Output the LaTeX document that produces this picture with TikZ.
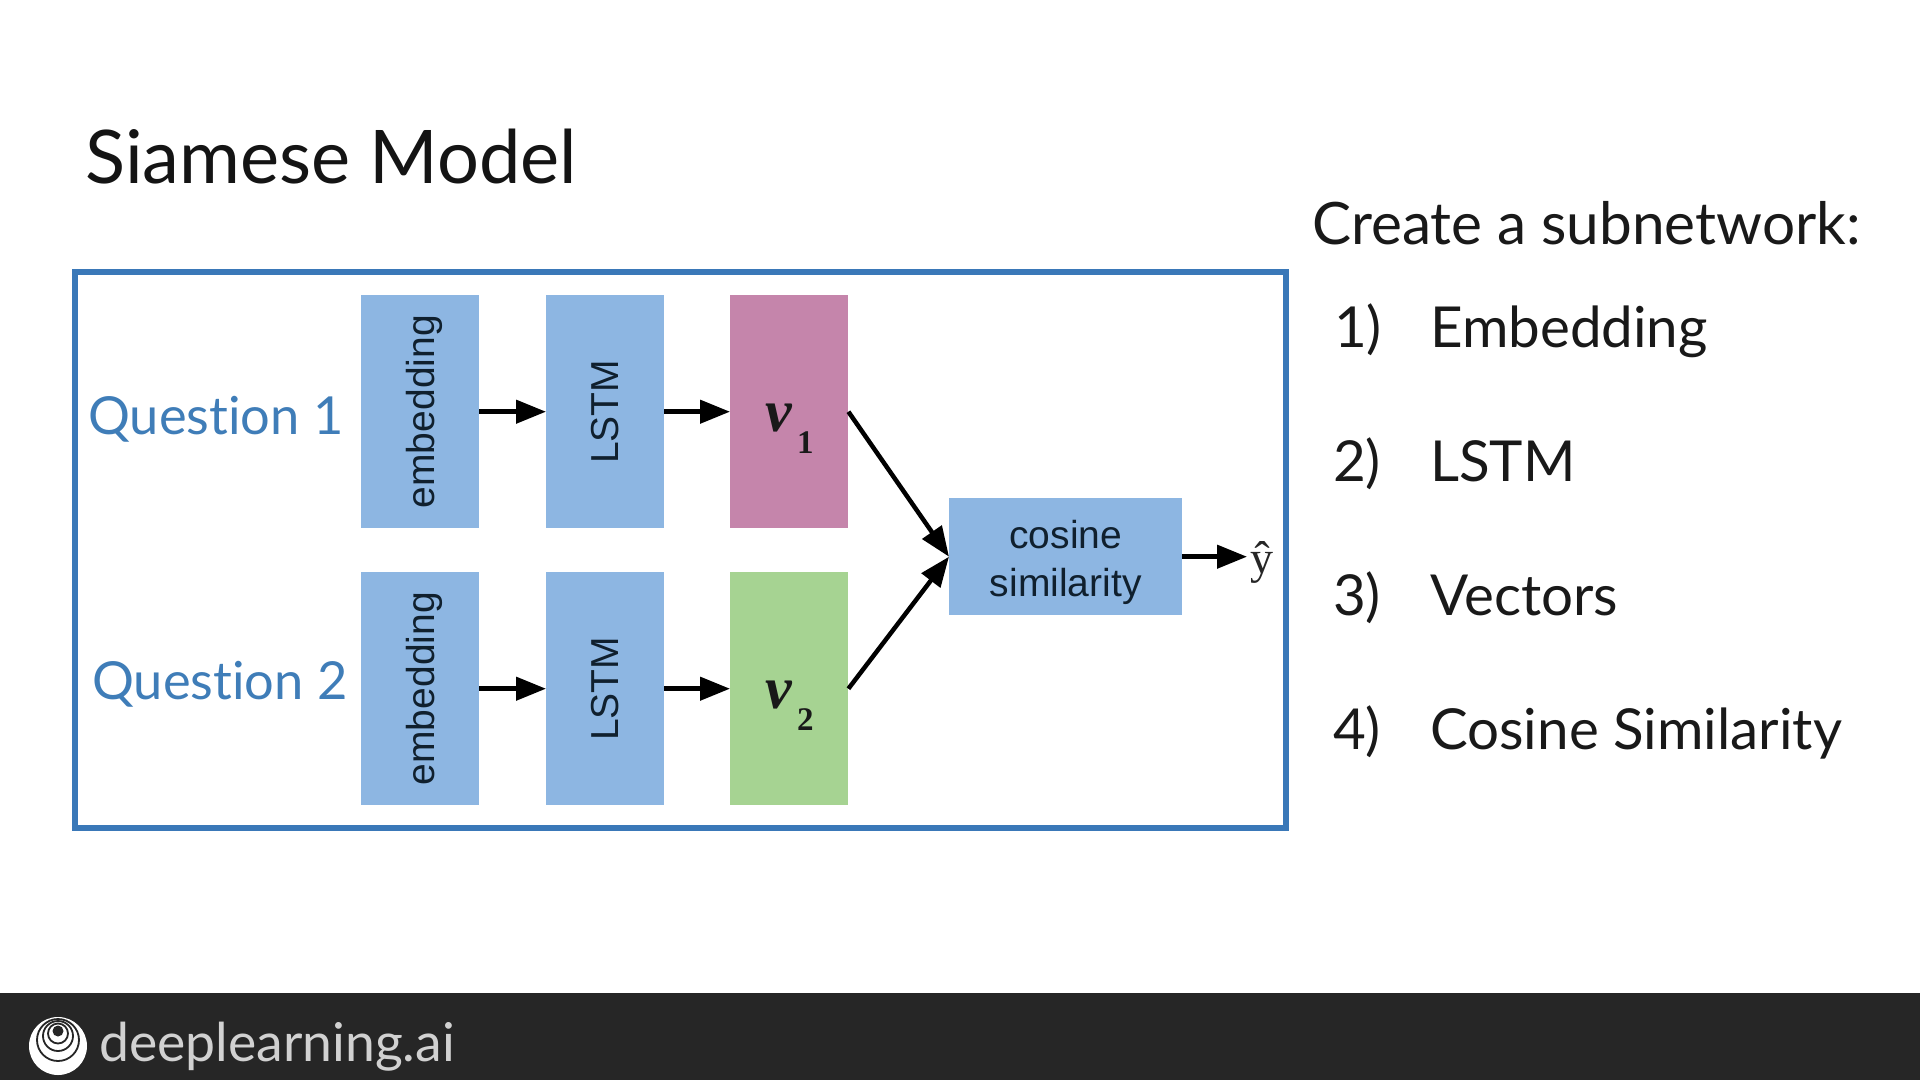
\documentclass[tikz,border=0pt]{standalone}
\usepackage{fontspec}
\setmainfont{Lato}[Ligatures=NoCommon]
\newfontfamily\arialf{Liberation Sans}
\newfontfamily\timesf{Liberation Serif}
\usetikzlibrary{arrows.meta}
\definecolor{framec}{HTML}{3A78B8}
\definecolor{qc}{HTML}{3F7DB8}
\definecolor{boxb}{HTML}{8DB6E2}
\definecolor{boxp}{HTML}{C585AB}
\definecolor{boxg}{HTML}{A6D392}
\definecolor{foot}{HTML}{262626}
\definecolor{ink}{HTML}{10202E}
\newcommand{\nodepth}[1]{\raisebox{0pt}[\height][0pt]{#1}}
\tikzset{
  x=1pt,y=-1pt,
  blk/.style={fill=boxb,draw=none,inner sep=0,anchor=north west,font=\arialf\fontsize{39}{48}\selectfont,align=center,text=ink},
  tall/.style={blk,minimum width=118pt,minimum height=233pt},
  txt/.style={inner sep=0,anchor=base west},
  ques/.style={txt,text=qc,font=\fontsize{52.4}{60}\selectfont},
  item/.style={txt,text=black!90,font=\fontsize{56.5}{66}\selectfont},
  arr/.style={line width=4.5pt,-{Triangle[length=30pt,width=23pt]},black},
  vsym/.style={txt,font=\timesf\bfseries\itshape\fontsize{60}{64}\selectfont,text=black!90},
  vsub/.style={txt,font=\timesf\bfseries\fontsize{33}{36}\selectfont,text=black!90},
}
\begin{document}
\begin{tikzpicture}
\useasboundingbox (0,0) rectangle (1920,1080);
\fill[white] (0,0) rectangle (1920,1080);
\fill[foot] (0,993) rectangle (1920,1080);
% logo
\fill[white] (58,1046) circle (29);
\draw[foot,line width=1.8pt] (58,1040) circle (21);
\draw[foot,line width=1.8pt] (58,1036) circle (15);
\draw[foot,line width=1.8pt] (58,1033.5) circle (10);
\fill[foot] (58,1031) circle (5.5);
\node[txt,text=white!82!black,font=\fontsize{53.5}{60}\selectfont] (brand) at (99,1061) {deeplearning.ai};
% title
\node[txt,text=black!92,font=\fontsize{74}{80}\selectfont] (title) at (85,183) {Siamese Model};
% frame
\draw[framec,line width=5.5pt] (75,272) rectangle (1286,828);
\node[ques] (q1) at (88,434) {Question 1};
\node[ques] (q2) at (92,699) {Question 2};
% blocks
\node[tall] (e1) at (361,295) {\rotatebox{90}{\nodepth{embedding}}};
\node[tall] (e2) at (361,572) {\rotatebox{90}{\nodepth{embedding}}};
\node[tall] (l1) at (546,295) {\rotatebox{90}{LSTM}};
\node[tall] (l2) at (546,572) {\rotatebox{90}{LSTM}};
\node[tall,fill=boxp] (v1) at (730,295) {};
\node[tall,fill=boxg] (v2) at (730,572) {};
\node[blk,minimum width=233pt,minimum height=117pt] (cos) at (949,498) {\rule{0pt}{39pt}cosine\\similarity};
\node[vsym] (v1t) at (765,431) {v};
\node[vsub] (v1s) at (797,453) {1};
\node[vsym] (v2t) at (765,708) {v};
\node[vsub] (v2s) at (797,730) {2};
\node[inner sep=0,anchor=west,font=\timesf\fontsize{46}{50}\selectfont,text=black!85] (yh) at (1250,562) {ŷ};
% connectors
\draw[arr] (e1) -- (l1);
\draw[arr] (l1) -- (v1);
\draw[arr] (e2) -- (l2);
\draw[arr] (l2) -- (v2);
\draw[arr] (v1.east) -- (cos.west);
\draw[arr] (v2.east) -- (cos.west);
\draw[arr,shorten >=3pt] (cos.east) -- (cos.east -| yh.west);
% list
\node[item,font=\fontsize{58.5}{66}\selectfont] (head) at (1312,244) {Create a subnetwork:};
\node[item] (n1) at (1334,347) {1)};
\node[item] (t1) at (1430,347) {Embedding};
\node[item] (n2) at (1333,481) {2)};
\node[item] (t2) at (1430,481) {LSTM};
\node[item] (n3) at (1333,615) {3)};
\node[item] (t3) at (1430,615) {Vectors};
\node[item] (n4) at (1333,749) {4)};
\node[item] (t4) at (1430,749) {Cosine Similarity};
\end{tikzpicture}
\end{document}
